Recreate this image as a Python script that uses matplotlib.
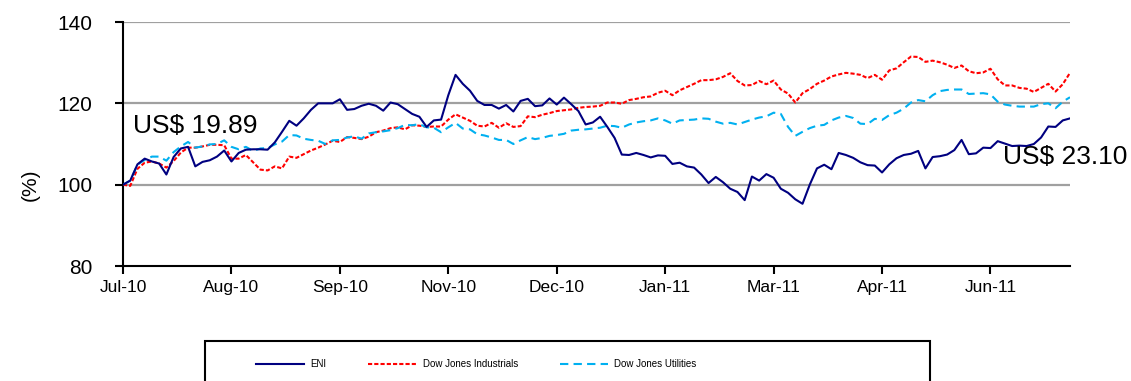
import numpy as np
import matplotlib
matplotlib.use("Agg")
import matplotlib.pyplot as plt
from matplotlib.patches import Rectangle

plt.rcParams["font.family"] = ["Liberation Sans", "DejaVu Sans"]

# 每两个交易日一个点，2010年7月 - 2011年6月，起点=100
eni = [100, 101.0, 105.0, 106.4, 105.7, 105.2, 102.5, 106.8, 108.9, 109.3,
       104.5, 105.6, 106.0, 106.9, 108.4, 105.7, 107.8, 108.6, 108.7, 108.7,
       108.6, 110.4, 113.0, 115.7, 114.5, 116.3, 118.4, 120.0, 120.0, 120.0,
       121.0, 118.4, 118.6, 119.4, 119.9, 119.4, 118.2, 120.2, 119.8, 118.6,
       117.4, 116.7, 114.2, 115.8, 116.0, 122.0, 127.0, 124.8, 123.1, 120.6,
       119.6, 119.6, 118.7, 119.6, 118.0, 120.6, 121.1, 119.3, 119.5, 121.2,
       119.7, 121.4, 119.8, 118.1, 114.8, 115.3, 116.7, 114.2, 111.5, 107.4,
       107.3, 107.8, 107.3, 106.7, 107.2, 107.1, 105.1, 105.4, 104.5, 104.2,
       102.5, 100.4, 101.9, 100.6, 99.0, 98.2, 96.2, 102.0, 101.0, 102.6,
       101.7, 99.0, 98.0, 96.4, 95.3, 100.0, 104.0, 104.9, 103.8, 107.8,
       107.3, 106.6, 105.5, 104.8, 104.7, 103.0, 105.0, 106.5, 107.3, 107.6,
       108.3, 104.0, 106.8, 107.0, 107.4, 108.5, 111.0, 107.5, 107.7, 109.1,
       109.0, 110.7, 110.1, 109.5, 109.6, 109.5, 110.0, 111.6, 114.3, 114.2,
       115.8, 116.3]

dj_industrials = [100, 99.7, 103.9, 105.4, 105.7, 105.2, 104.2, 105.8, 107.9, 109.1,
                  109.1, 109.4, 109.8, 109.8, 109.7, 106.4, 106.4, 107.3, 105.5, 103.7,
                  103.5, 104.5, 104.0, 106.9, 106.6, 107.5, 108.4, 109.1, 109.9, 110.8,
                  110.5, 111.7, 111.5, 111.2, 111.8, 112.9, 113.3, 113.9, 114.1, 113.6,
                  114.6, 114.5, 114.2, 114.3, 114.3, 116.0, 117.3, 116.5, 115.7, 114.5,
                  114.3, 115.2, 114.0, 115.1, 114.2, 114.4, 116.8, 116.6, 117.2, 117.6,
                  118.1, 118.3, 118.5, 118.9, 119.1, 119.2, 119.4, 120.2, 120.2, 119.9,
                  120.8, 121.1, 121.5, 121.7, 122.6, 123.1, 122.0, 123.2, 124.0, 124.8,
                  125.7, 125.7, 125.9, 126.5, 127.4, 125.5, 124.4, 124.5, 125.5, 124.7,
                  125.6, 123.4, 122.4, 120.2, 122.5, 123.5, 124.8, 125.6, 126.6, 127.1,
                  127.5, 127.3, 127.0, 126.2, 127.0, 125.8, 128.1, 128.6, 130.1, 131.5,
                  131.4, 130.2, 130.5, 130.1, 129.5, 128.7, 129.3, 127.9, 127.4, 127.6,
                  128.5, 125.9, 124.4, 124.4, 123.8, 123.6, 122.8, 123.8, 124.8, 122.9,
                  124.7, 127.5]

dj_utilities = [100, 101.0, 104.9, 106.1, 106.9, 106.9, 105.9, 108.0, 109.4, 110.5,
                109.1, 109.4, 109.9, 110.0, 110.9, 109.3, 108.7, 109.3, 108.3, 108.9,
                109.0, 109.9, 110.6, 112.2, 112.1, 111.3, 111.0, 110.8, 110.0, 110.9,
                111.0, 111.6, 111.9, 111.3, 112.6, 112.9, 113.1, 113.4, 113.9, 114.7,
                114.6, 114.9, 114.1, 114.0, 112.9, 114.1, 115.2, 113.8, 113.6, 112.4,
                112.1, 111.6, 111.0, 111.0, 110.0, 110.9, 111.7, 111.2, 111.5, 112.0,
                112.2, 112.5, 113.3, 113.5, 113.6, 113.8, 114.0, 114.5, 114.4, 114.0,
                114.8, 115.3, 115.6, 115.8, 116.3, 115.8, 115.0, 115.8, 115.9, 116.0,
                116.3, 116.2, 115.5, 115.0, 115.2, 114.8, 115.4, 116.0, 116.5, 116.8,
                117.7, 117.4, 114.2, 112.0, 113.0, 113.9, 114.5, 114.7, 115.8, 116.5,
                116.9, 116.4, 115.0, 114.9, 116.2, 115.9, 117.1, 117.7, 118.7, 120.2,
                120.8, 120.5, 122.0, 123.0, 123.3, 123.4, 123.4, 122.3, 122.4, 122.5,
                122.2, 120.4, 119.7, 119.4, 119.2, 119.2, 119.2, 119.8, 120.0, 118.8,
                120.4, 121.5]

tick_labels = ["Jul-10", "Aug-10", "Sep-10", "Nov-10", "Dec-10",
               "Jan-11", "Mar-11", "Apr-11", "Jun-11"]
tick_step = 30      # 交易日
point_step = 2

W, H = 1131, 381


def fx(px):
    return px / W


def fy(py):
    return 1 - py / H


fig = plt.figure(figsize=(W / 100, H / 100), dpi=100)
ax = fig.add_axes([fx(123), fy(266), fx(1070) - fx(123), fy(22) - fy(266)])

x = np.arange(len(eni)) * point_step

ax.plot(x, eni, color="#000080", lw=1.5, label="ENI", zorder=4)
ax.plot(x, dj_industrials, color="#FF0000", lw=1.5, dashes=(2, 1),
        label="Dow Jones Industrials", zorder=3)
ax.plot(x, dj_utilities, color="#00B0F0", lw=1.5, dashes=(4, 2.5),
        label="Dow Jones Utilities", zorder=3)

ax.set_xlim(0, x[-1])
ax.set_ylim(80, 140)
ax.set_yticks([80, 100, 120, 140])
ax.set_xticks(np.arange(len(tick_labels)) * tick_step)
ax.set_xticklabels(tick_labels)

for v in [100, 120, 140]:
    ax.axhline(v, color="#A0A0A0", lw=1.6, zorder=1)

for s in ["top", "right"]:
    ax.spines[s].set_visible(False)
ax.spines["left"].set_linewidth(1.5)
ax.spines["bottom"].set_linewidth(1.5)

ax.tick_params(axis="y", direction="out", length=6, width=1.5, pad=16, labelsize=15)
ax.tick_params(axis="x", direction="out", length=6, width=1.5, pad=4, labelsize=12.5)

ax.set_ylabel("(%)", fontsize=15)
ax.yaxis.set_label_coords(-0.088, 0.332)

fig.text(fx(133), fy(126), "US$ 19.89", fontsize=19, ha="left", va="center")
fig.text(fx(1003), fy(157), "US$ 23.10", fontsize=19, ha="left", va="center")

# 图例框（底部被裁掉）
fig.patches.append(Rectangle((fx(205), -0.1), fx(930) - fx(205), fy(341) + 0.1,
                             transform=fig.transFigure, fill=False,
                             edgecolor="black", lw=1.5))
fig.legend(loc="center left", bbox_to_anchor=(fx(251), fy(364)), ncol=3,
           frameon=False, borderpad=0, handlelength=5.0,
           handletextpad=0.6, columnspacing=4.3, prop={"size": 7})

fig.savefig("out.png", dpi=100)
